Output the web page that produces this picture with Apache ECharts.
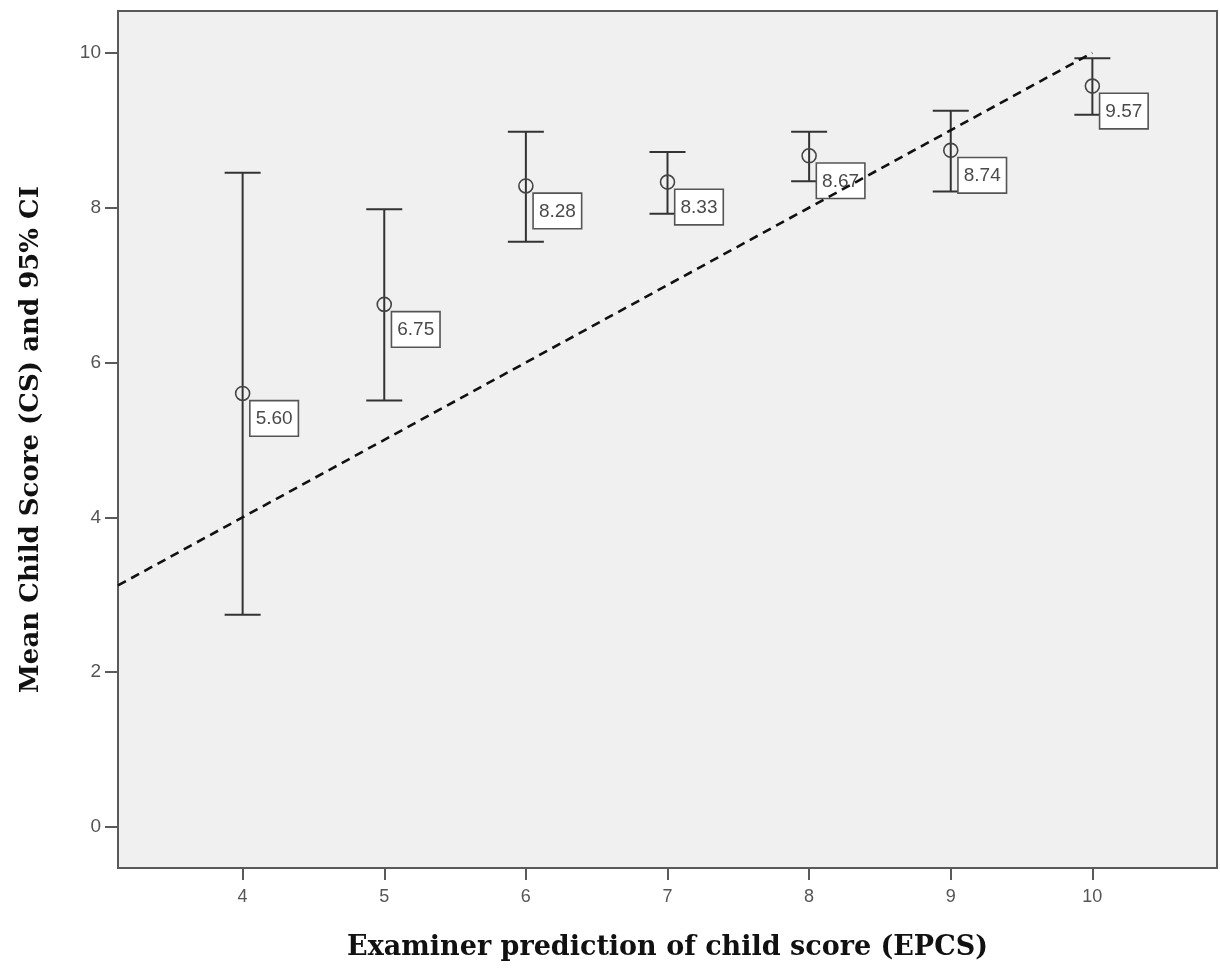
<!DOCTYPE html>
<html>
<head>
<meta charset="utf-8">
<script src="https://cdn.jsdelivr.net/npm/echarts@6/dist/echarts.min.js"></script>
<style>html,body{margin:0;padding:0;background:#fff;}#main{width:1220px;height:974px;}</style>
</head>
<body>
<div id="main"></div>
<script>
const xValues = [4, 5, 6, 7, 8, 9, 10];
const means = [5.60, 6.75, 8.28, 8.33, 8.67, 8.74, 9.57];
const lowerCI = [2.74, 5.51, 7.56, 7.92, 8.34, 8.21, 9.20];
const upperCI = [8.45, 7.98, 8.98, 8.72, 8.98, 9.25, 9.93];
const meanLabels = ['5.60', '6.75', '8.28', '8.33', '8.67', '8.74', '9.57'];
const xTicks = [4, 5, 6, 7, 8, 9, 10];
const yTicks = [0, 2, 4, 6, 8, 10];
const refLine = [[3.12, 3.12], [10, 10]];

const ciData = xValues.map((x, i) => [x, means[i], lowerCI[i], upperCI[i]]);

const chart = echarts.init(document.getElementById('main'));
chart.setOption({
  backgroundColor: '#ffffff',
  animation: false,
  grid: {
    left: 118, right: 3, top: 11, bottom: 106,
    show: true, backgroundColor: '#f0f0f0', borderColor: '#5a5a5a', borderWidth: 2
  },
  xAxis: {
    type: 'value', min: 3.12, max: 10.88,
    name: 'Examiner prediction of child score (EPCS)',
    nameLocation: 'middle', nameGap: 66,
    nameTextStyle: { fontFamily: 'DejaVu Serif', fontWeight: 'bold', fontSize: 27, color: '#111' },
    axisLine: { show: true, onZero: false, lineStyle: { color: '#5a5a5a', width: 2 } },
    axisTick: { show: true, length: 12, customValues: xTicks, lineStyle: { color: '#5a5a5a', width: 2 } },
    axisLabel: { customValues: xTicks, margin: 20, fontFamily: 'Liberation Sans', fontSize: 18, color: '#555' },
    splitLine: { show: false }
  },
  yAxis: {
    type: 'value', min: -0.53, max: 10.54,
    name: 'Mean Child Score (CS) and 95% CI',
    nameLocation: 'middle', nameGap: 74, nameRotate: 90,
    nameTextStyle: { fontFamily: 'DejaVu Serif', fontWeight: 'bold', fontSize: 26, color: '#111' },
    axisLine: { show: true, onZero: false, lineStyle: { color: '#5a5a5a', width: 2 } },
    axisTick: { show: true, length: 13, customValues: yTicks, lineStyle: { color: '#5a5a5a', width: 2 } },
    axisLabel: { customValues: yTicks, margin: 17, fontFamily: 'Liberation Sans', fontSize: 19, color: '#555' },
    splitLine: { show: false }
  },
  series: [
    {
      type: 'custom',
      z: 2,
      data: ciData,
      renderItem: function (params, api) {
        const x = api.value(0);
        const pMean = api.coord([x, api.value(1)]);
        const pLo = api.coord([x, api.value(2)]);
        const pHi = api.coord([x, api.value(3)]);
        const half = 18;
        const stroke = { stroke: '#333', lineWidth: 2 };
        return {
          type: 'group',
          children: [
            { type: 'line', shape: { x1: pLo[0], y1: pLo[1], x2: pHi[0], y2: pHi[1] }, style: stroke },
            { type: 'line', shape: { x1: pLo[0] - half, y1: pLo[1], x2: pLo[0] + half, y2: pLo[1] }, style: stroke },
            { type: 'line', shape: { x1: pHi[0] - half, y1: pHi[1], x2: pHi[0] + half, y2: pHi[1] }, style: stroke },
            { type: 'circle', shape: { cx: pMean[0], cy: pMean[1], r: 7 }, style: { fill: 'none', stroke: '#444', lineWidth: 1.6 } },
            {
              type: 'text',
              x: pMean[0] + 8, y: pMean[1] + 8,
              style: {
                text: meanLabels[params.dataIndex],
                fontFamily: 'Liberation Sans', fontSize: 19, fill: '#4a4a4a',
                align: 'left', verticalAlign: 'top',
                backgroundColor: '#ffffff', borderColor: '#555', borderWidth: 1.6,
                padding: [8, 5, 7, 5]
              }
            }
          ]
        };
      }
    },
    {
      type: 'line',
      z: 5,
      data: refLine,
      symbol: 'none',
      silent: true,
      lineStyle: { color: '#111', width: 2.6, type: [9, 6] }
    }
  ]
});
</script>
</body>
</html>
